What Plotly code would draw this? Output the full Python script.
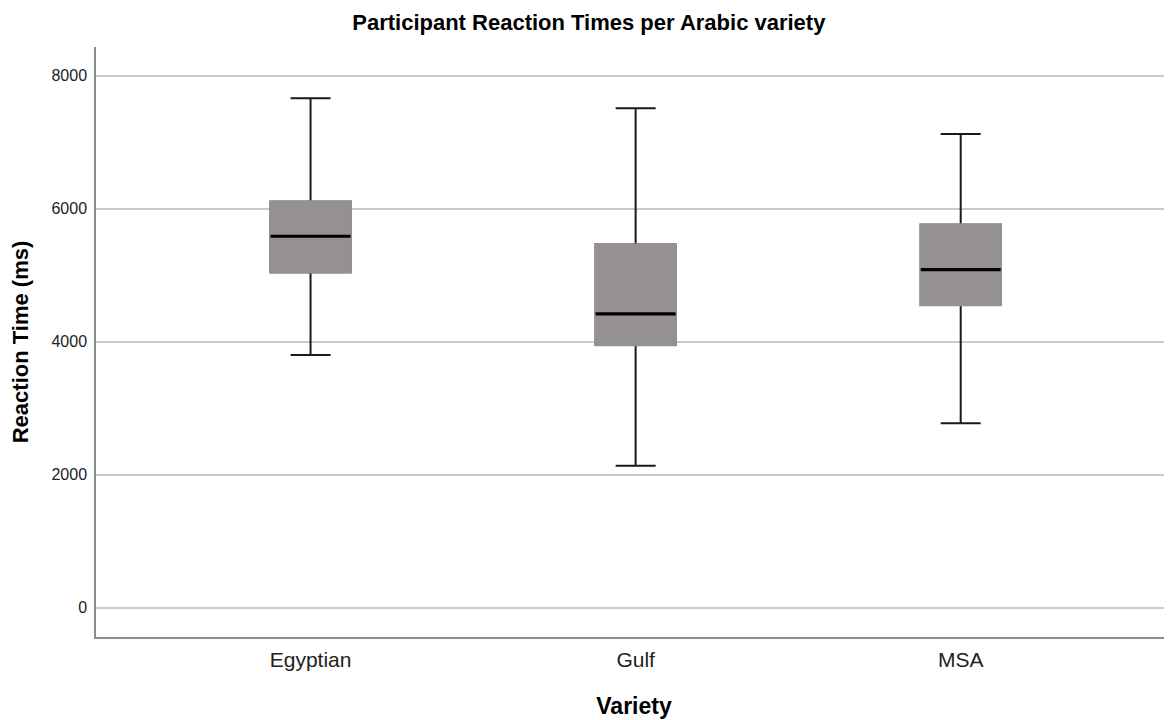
import plotly.graph_objects as go

categories = ["Egyptian", "Gulf", "MSA"]
lower_whisker = [3800, 2135, 2773]
q1_values = [5044, 3950, 4552]
median_values = [5585, 4417, 5083]
q3_values = [6105, 5459, 5759]
upper_whisker = [7660, 7510, 7123]

box_fill = "#959190"
box_width = 0.246

fig = go.Figure()

# whiskers + box
fig.add_trace(go.Box(
    x=categories, q1=q1_values, median=median_values, q3=q3_values,
    lowerfence=lower_whisker, upperfence=upper_whisker,
    fillcolor=box_fill, line=dict(color="#1a1a1a", width=2),
    whiskerwidth=0.5, width=box_width, boxpoints=False,
    hoverinfo="skip", showlegend=False,
))
# cover box outline with fill colour
fig.add_trace(go.Box(
    x=categories, q1=q1_values, median=q1_values, q3=q3_values,
    lowerfence=q1_values, upperfence=q3_values,
    fillcolor=box_fill, line=dict(color=box_fill, width=2.6),
    whiskerwidth=0, width=box_width, boxpoints=False,
    hoverinfo="skip", showlegend=False,
))
# median line
fig.add_trace(go.Box(
    x=categories, q1=median_values, median=median_values, q3=median_values,
    lowerfence=median_values, upperfence=median_values,
    fillcolor="black", line=dict(color="black", width=3.2),
    whiskerwidth=0, width=box_width, boxpoints=False,
    hoverinfo="skip", showlegend=False,
))

fig.update_layout(
    width=1164, height=712,
    margin=dict(l=88, r=0, t=39, b=83),
    paper_bgcolor="white", plot_bgcolor="white",
    boxmode="overlay",
    font=dict(family="Liberation Sans, Arial, sans-serif", color="#222"),
    title=dict(text="<b>Participant Reaction Times per Arabic variety</b>",
               x=0.499, xanchor="center", y=0.980, yanchor="middle",
               font=dict(size=22, color="black")),
    xaxis=dict(
        range=[-0.66, 2.65], showgrid=False, zeroline=False,
        showline=True, linecolor="#8c8c8c", linewidth=1.5,
        ticks="", ticklabelstandoff=3, tickfont=dict(size=21, color="#222"),
        title=dict(text="<b>Variety</b>", font=dict(size=23, color="black"), standoff=28),
    ),
    yaxis=dict(
        range=[-440, 8430], tickvals=[0, 2000, 4000, 6000, 8000],
        showgrid=True, gridcolor="#cacaca", gridwidth=1.5, zeroline=False,
        showline=True, linecolor="#8c8c8c", linewidth=1.5,
        ticks="", ticklabelstandoff=4, tickfont=dict(size=16, color="#222"),
        title=dict(text="<b>Reaction Time (ms)</b>", font=dict(size=22, color="black"), standoff=20),
    ),
)

fig.write_html("out.html")
